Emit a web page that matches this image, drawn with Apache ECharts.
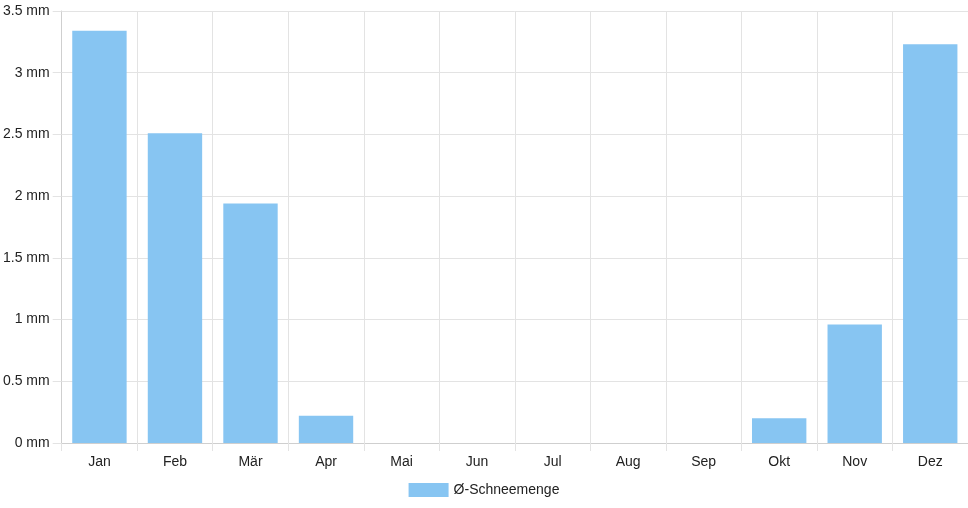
<!DOCTYPE html>
<html>
<head>
<meta charset="utf-8">
<script src="https://cdn.jsdelivr.net/npm/echarts@6/dist/echarts.min.js"></script>
<style>
html, body { margin: 0; padding: 0; background: #fff; }
#chart { width: 968px; height: 508px; }
</style>
</head>
<body>
<div id="chart"></div>
<script>
// Monate
const months = ['Jan', 'Feb', 'Mär', 'Apr', 'Mai', 'Jun', 'Jul', 'Aug', 'Sep', 'Okt', 'Nov', 'Dez']
// Ø-Schneemenge in mm
const snow = [3.34, 2.51, 1.94, 0.22, 0, 0, 0, 0, 0, 0.20, 0.96, 3.23]
const seriesName = 'Ø-Schneemenge'

const chart = echarts.init(document.getElementById('chart'))
const gridColor = '#e3e3e3'
const textStyle = { fontFamily: 'Liberation Sans, Arial, sans-serif', fontSize: 14, color: '#222' }

chart.setOption({
    animation: false,
    grid: { left: 61, right: 0, top: 11, bottom: 65 },
    legend: {
        data: [seriesName],
        bottom: 6,
        left: 'center',
        icon: 'rect',
        itemWidth: 40,
        itemHeight: 14,
        itemGap: 10,
        itemStyle: { borderWidth: 0 },
        textStyle: textStyle
    },
    xAxis: {
        type: 'category',
        data: months,
        axisLine: { lineStyle: { color: '#cfcfcf' } },
        axisTick: { show: true, length: 8, lineStyle: { color: gridColor } },
        axisLabel: Object.assign({ margin: 12 }, textStyle),
        splitLine: { show: true, lineStyle: { color: gridColor } }
    },
    yAxis: {
        type: 'value',
        min: 0,
        max: 3.5,
        interval: 0.5,
        axisLine: { show: true, lineStyle: { color: '#cfcfcf' } },
        axisTick: { show: true, length: 9, lineStyle: { color: gridColor } },
        axisLabel: Object.assign({ margin: 12, formatter: v => v + ' mm' }, textStyle),
        splitLine: { lineStyle: { color: gridColor } }
    },
    series: [{
        name: seriesName,
        type: 'bar',
        data: snow,
        barCategoryGap: '28%',
        itemStyle: { color: '#87c5f2', borderWidth: 0, borderRadius: 0 }
    }]
})
</script>
</body>
</html>
